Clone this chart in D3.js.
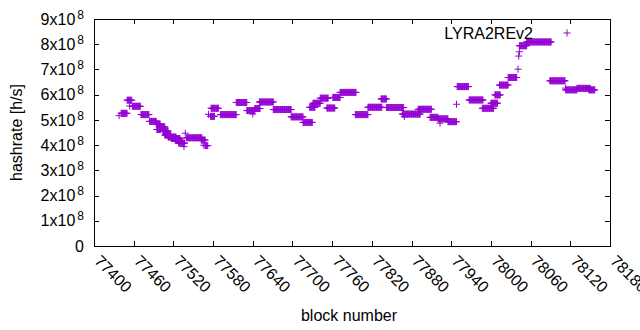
<!DOCTYPE html>
<html lang="en">
<head>
<meta charset="UTF-8">
<title>hashrate LYRA2REv2</title>
<script src="https://d3js.org/d3.v7.min.js"></script>
<style>
  body { margin: 0; background: #fff; }
  svg text { font-family: "Liberation Sans", Arial, sans-serif; fill: #000; }
</style>
</head>
<body>
<svg width="640" height="330"></svg>
<script>
// runs of blocks that share one hashrate (x1e8 h/s)
const runFirst = [77438, 77441, 77450, 77454, 77458, 77471, 77484, 77494, 77495, 77500,
  77504, 77507, 77512, 77517, 77523, 77528, 77536, 77538, 77540, 77562,
  77566, 77568, 77573, 77576, 77577, 77591, 77615, 77631, 77640, 77643,
  77650, 77671, 77698, 77716, 77726, 77731, 77742, 77752, 77761, 77772,
  77795, 77814, 77834, 77842, 77866, 77869, 77890, 77908, 77920, 77923,
  77935, 77948, 77949, 77967, 77987, 78000, 78006, 78013, 78026, 78041,
  78042, 78043, 78043, 78054, 78089, 78113, 78113, 78130, 78148];
const runLast = [77438, 77450, 77457, 77454, 77470, 77483, 77494, 77500, 77501, 77507,
  77512, 77516, 77524, 77530, 77533, 77537, 77536, 77538, 77563, 77568,
  77566, 77572, 77573, 77582, 77588, 77615, 77631, 77643, 77640, 77651,
  77671, 77698, 77716, 77730, 77734, 77742, 77754, 77764, 77772, 77796,
  77814, 77835, 77842, 77868, 77893, 77869, 77910, 77920, 77935, 77923,
  77948, 77948, 77966, 77988, 78004, 78010, 78014, 78026, 78039, 78041,
  78042, 78043, 78054, 78091, 78112, 78113, 78130, 78150, 78157];
const runRate = [5.17, 5.26, 5.78, 5.55, 5.54, 5.21, 4.94, 4.84, 4.62, 4.72,
  4.56, 4.40, 4.32, 4.26, 4.18, 4.08, 3.94, 4.47, 4.29, 4.20,
  4.00, 3.98, 5.22, 5.14, 5.46, 5.21, 5.69, 5.37, 5.23, 5.45,
  5.71, 5.41, 5.12, 4.90, 5.50, 5.66, 5.86, 5.47, 5.89, 6.09,
  5.21, 5.50, 5.83, 5.49, 5.23, 5.13, 5.42, 5.10, 5.04, 4.87,
  4.93, 5.62, 6.32, 5.79, 5.46, 5.66, 5.99, 6.38, 6.68, 7.01,
  7.53, 7.70, 7.94, 8.09, 6.55, 6.26, 6.19, 6.25, 6.19];

const xTicks = [77400, 77460, 77520, 77580, 77640, 77700, 77760, 77820, 77880, 77940, 78000, 78060, 78120, 78180];
const yTicks = [0, 1, 2, 3, 4, 5, 6, 7, 8, 9];
const seriesName = "LYRA2REv2";

const svg = d3.select("svg");
const plotL = 94, plotR = 610, plotT = 19, plotB = 246;

const x = d3.scaleLinear().domain([77400, 78180]).range([plotL, plotR]);
const y = d3.scaleLinear().domain([0, 9]).range([plotB, plotT]);

// one point per block
let points = [];
runFirst.forEach(function (b0, i) {
  for (let b = b0; b <= runLast[i]; b++) points.push({ block: b, rate: runRate[i] });
});

const plus = "M-3.5,0H3.5M0,-3.5V3.5";

// axes, ticks pointing inward on all four sides
const gx = svg.append("g").attr("transform", `translate(0,${plotB})`)
  .call(d3.axisBottom(x).tickValues(xTicks).tickSize(-5).tickFormat(d3.format("d")));
gx.selectAll("text")
  .attr("text-anchor", "start")
  .attr("dy", null)
  .attr("y", null)
  .attr("transform", "translate(-1,16) rotate(45)")
  .style("font-size", "16px");

svg.append("g").attr("transform", `translate(0,${plotT})`)
  .call(d3.axisTop(x).tickValues(xTicks).tickSize(-5).tickFormat(""));

const gy = svg.append("g").attr("transform", `translate(${plotL},0)`)
  .call(d3.axisLeft(y).tickValues(yTicks).tickSize(-5).tickPadding(10));
gy.selectAll("text").each(function (d) {
  const t = d3.select(this).text("").style("font-size", "16px").attr("x", -10);
  if (d === 0) { t.text("0"); return; }
  t.append("tspan").text(d + "x10");
  t.append("tspan").attr("dx", 2).attr("dy", -6).style("font-size", "12px").text("8");
});

svg.append("g").attr("transform", `translate(${plotR},0)`)
  .call(d3.axisRight(y).tickValues(yTicks).tickSize(-5).tickFormat(""));

svg.selectAll(".domain").remove();
svg.selectAll(".tick line").attr("stroke", "#000").attr("shape-rendering", "crispEdges");

svg.append("rect")
  .attr("x", plotL).attr("y", plotT)
  .attr("width", plotR - plotL).attr("height", plotB - plotT)
  .attr("fill", "none").attr("stroke", "#000").attr("shape-rendering", "crispEdges");

// data
svg.append("g").selectAll("path")
  .data(points)
  .join("path")
  .attr("transform", d => `translate(${x(d.block)},${y(d.rate)})`)
  .attr("d", plus)
  .attr("stroke", "darkviolet")
  .attr("stroke-width", 1)
  .attr("fill", "none");

// key
svg.append("text")
  .attr("x", 533).attr("y", 39)
  .attr("text-anchor", "end")
  .style("font-size", "16px")
  .text(seriesName);
svg.append("path")
  .attr("transform", "translate(567,33)")
  .attr("d", plus)
  .attr("stroke", "darkviolet")
  .attr("fill", "none");

// axis titles
svg.append("text")
  .attr("x", 349).attr("y", 321)
  .attr("text-anchor", "middle")
  .style("font-size", "16px")
  .text("block number");

svg.append("text")
  .attr("transform", `translate(22,${(plotT + plotB) / 2}) rotate(-90)`)
  .attr("text-anchor", "middle")
  .style("font-size", "16px")
  .text("hashrate [h/s]");
</script>
</body>
</html>
